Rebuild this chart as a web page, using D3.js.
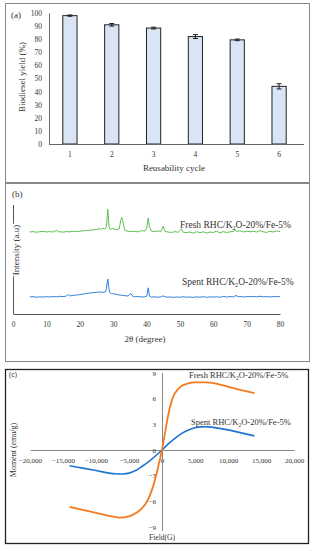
<!DOCTYPE html>
<html>
<head>
<meta charset="utf-8">
<script src="https://cdn.jsdelivr.net/npm/d3@7"></script>
<style>
  body { margin: 0; background: #fff; }
  text { font-family: "Liberation Serif", "DejaVu Serif", serif; fill: #333; }
</style>
</head>
<body>
<div id="chart"></div>
<script>
// ---- data ----
var cycles = ["1", "2", "3", "4", "5", "6"];
var yieldVals = [98, 91, 88.5, 82, 79.5, 44];
var yieldErr = [0.5, 1, 0.7, 1.5, 0.6, 2];
var yieldTicks = [0, 10, 20, 30, 40, 50, 60, 70, 80, 90, 100];

var xrdTicks = [0, 10, 20, 30, 40, 50, 60, 70, 80];
// [2theta, intensity a.u.]
var freshXRD = [[5,75.2],[6,75.6],[7,75.0],[8,75.5],[9,75.8],[10,75.3],[11,75.6],[12,75.2],[13,76.8],[13.5,75.4],[14,75.5],[15,75.1],[16,75.6],[17,75.4],[18,75.9],[19,75.6],[20,76.0],[21,76.3],[22,76.6],[23,76.9],[24,77.2],[25,77.6],[26,78.3],[26.5,77.8],[27,78.6],[27.5,78.0],[28,80],[28.4,96],[28.8,80],[29.2,77.5],[29.8,78.5],[30.5,77.8],[31,77.2],[31.8,78],[32.3,86],[32.6,88.5],[33,84],[33.5,76.5],[34.5,76],[35.5,75.6],[36.5,75.8],[37.5,75.4],[38.5,76.5],[39.5,76],[40.1,79],[40.5,88],[40.9,80],[41.5,76],[42.5,75.6],[43.5,76.2],[44.3,75.5],[45,80.5],[45.5,75.8],[46.5,75.2],[47.5,74.8],[48.5,75.6],[49.5,75],[50.5,78],[51,75],[52,74.6],[53,75.3],[54,74.2],[55,75.5],[56,74.6],[57,75.4],[58,74.3],[59,75.2],[60,74.8],[61,76],[62,74.5],[63,75.6],[64,74.8],[65,75.4],[66,75.8],[66.5,77.2],[67,75.8],[68,76.4],[69,75.2],[70,76],[71,75.4],[72,75.9],[73,75.2],[74,76.5],[75,75.4],[76,74.8],[77,76],[78,75.2],[79,76.2],[80,75.6]];
var spentXRD = [[5,15.6],[6,15.9],[7,15.4],[8,15.8],[9,15.5],[10,15.9],[11,15.6],[12,16],[13,15.7],[14,16.2],[15,16],[16,16.4],[16.5,18],[17,16.6],[18,17],[19,17.4],[20,17.8],[21,18.3],[22,18.8],[23,19.2],[24,19.6],[25,19.9],[26,20.2],[27,19.8],[27.8,20.5],[28.4,32],[28.9,20],[29.5,18.6],[30.5,18.4],[31.5,17.6],[32.5,17.2],[33.5,16.8],[34.5,16.5],[35.3,19],[35.8,16.4],[36.5,15.8],[37.5,16],[38.5,15.6],[39.5,15.8],[40.1,16.5],[40.5,24],[40.9,16.4],[41.5,15.5],[42.5,15.8],[43.5,15.3],[44.5,15.9],[45,16.6],[46,15.4],[47,15.7],[48,15.2],[49,15.6],[50,15.3],[51,15.9],[52,15.4],[53,15.6],[54,15.2],[55,15.8],[56,15.4],[57,15.9],[58,15.3],[59,15.7],[60,15.5],[61,15.8],[62,15.3],[63,16.2],[64,15.6],[65,16],[66,15.7],[66.8,17],[67.5,15.8],[68,16.1],[69,15.6],[70,16],[71,15.8],[72,16.2],[73,15.7],[74,16.3],[75,15.8],[76,16],[77,15.6],[78,16.1],[79,15.8],[80,16]];

var fieldTicks = [-20000, -15000, -10000, -5000, 0, 5000, 10000, 15000, 20000];
var momentTicks = [-9, -6, -3, 0, 3, 6, 9];
// [field G, moment emu/g]
var freshVSM = [[-14000,-6.65],[-12000,-7.0],[-10000,-7.35],[-8000,-7.7],[-6500,-7.9],[-5000,-7.75],[-4000,-7.4],[-3300,-7.0],[-2500,-6.3],[-2000,-5.6],[-1500,-4.6],[-1000,-3.3],[-500,-1.7],[0,0],[500,2.2],[1000,4.3],[1500,5.8],[2000,6.7],[3000,7.5],[4000,7.8],[5000,7.9],[6500,7.9],[8000,7.8],[10000,7.4],[12000,7.0],[14000,6.65]];
var spentVSM = [[-14000,-1.85],[-12000,-2.12],[-10000,-2.4],[-8000,-2.7],[-7000,-2.78],[-6000,-2.8],[-5000,-2.7],[-4000,-2.4],[-3000,-1.9],[-2000,-1.35],[-1000,-0.7],[0,0],[1000,0.75],[2000,1.4],[3000,1.95],[4000,2.35],[5000,2.6],[6000,2.7],[7000,2.7],[8000,2.62],[10000,2.35],[12000,2.0],[14000,1.65]];

var W = 315, H = 550;
var svg = d3.select("#chart").append("svg")
  .attr("width", W).attr("height", H);

// panel frames
svg.append("rect").attr("x", 5.5).attr("y", 3.5).attr("width", 304).attr("height", 179)
  .attr("fill", "none").attr("stroke", "#888");
svg.append("rect").attr("x", 5.5).attr("y", 183.5).attr("width", 304).attr("height", 178)
  .attr("fill", "none").attr("stroke", "#888");
svg.append("rect").attr("x", 5.5).attr("y", 369.5).attr("width", 303).attr("height", 174)
  .attr("fill", "none").attr("stroke", "#222").attr("stroke-width", 1.3);

function styleAxis(size) {
  return function(g) {
    g.attr("font-family", null);
    g.select(".domain").attr("stroke", "#666");
    g.selectAll("text").style("font-size", size + "px").attr("fill", "#333");
  };
}

// ===== panel (a) =====
var xa = d3.scaleBand().domain(cycles).range([49, 300]).paddingInner(0.66).paddingOuter(0.33);
var ya = d3.scaleLinear().domain([0, 100]).range([144, 13]);

var ga = svg.append("g");
ga.append("g").attr("transform", "translate(49,0)")
  .call(d3.axisLeft(ya).tickValues(yieldTicks).tickSize(0).tickPadding(7))
  .call(styleAxis(7.5));

ga.selectAll("rect.bar").data(yieldVals).enter().append("rect")
  .attr("class", "bar")
  .attr("x", function(d, i) { return xa(cycles[i]); })
  .attr("y", function(d) { return ya(d); })
  .attr("width", xa.bandwidth())
  .attr("height", function(d) { return ya(0) - ya(d); })
  .attr("fill", "#d9e5f4").attr("stroke", "#222").attr("stroke-width", 1);

// error bars
ga.selectAll("g.err").data(yieldVals).enter().append("g")
  .attr("class", "err")
  .each(function(d, i) {
    var cx = xa(cycles[i]) + xa.bandwidth() / 2;
    var g = d3.select(this);
    g.append("line").attr("x1", cx).attr("x2", cx)
      .attr("y1", ya(d + yieldErr[i])).attr("y2", ya(d - yieldErr[i])).attr("stroke", "#222");
    [d + yieldErr[i], d - yieldErr[i]].forEach(function(v) {
      g.append("line").attr("x1", cx - 2.5).attr("x2", cx + 2.5)
        .attr("y1", ya(v)).attr("y2", ya(v)).attr("stroke", "#222");
    });
  });

ga.append("g").attr("transform", "translate(0,144)")
  .call(d3.axisBottom(xa).tickSize(0).tickPadding(8))
  .call(styleAxis(7.5))
  .call(function(g) { g.select(".domain").attr("d", "M49,0.5H304"); });

ga.append("text").attr("x", 174).attr("y", 171).attr("text-anchor", "middle")
  .style("font-size", "9px").text("Reusability cycle");
ga.append("text").attr("transform", "translate(25,77) rotate(-90)").attr("text-anchor", "middle")
  .style("font-size", "9px").text("Biodiesel yield (%)");
ga.append("text").attr("x", 11).attr("y", 18).style("font-size", "9px").text("(a)");

// ===== panel (b) =====
var xb = d3.scaleLinear().domain([0, 80]).range([13, 280]);
var yb = d3.scaleLinear().domain([0, 100]).range([314, 205]);
var gb = svg.append("g");

gb.append("line").attr("x1", 13.5).attr("x2", 13.5).attr("y1", 205).attr("y2", 314).attr("stroke", "#555");
gb.append("g").attr("transform", "translate(0,314)")
  .call(d3.axisBottom(xb).tickValues(xrdTicks).tickSize(0).tickPadding(8))
  .call(styleAxis(7.5))
  .call(function(g) { g.select(".domain").attr("stroke", "#555"); });

var lineB = d3.line().x(function(d) { return xb(d[0]); }).y(function(d) { return yb(d[1]); });
gb.append("path").datum(freshXRD).attr("d", lineB).attr("fill", "none")
  .attr("stroke", "#4cb83e").attr("stroke-width", 0.9);
gb.append("path").datum(spentXRD).attr("d", lineB).attr("fill", "none")
  .attr("stroke", "#1d74d0").attr("stroke-width", 0.9);

function sampleLabel(g, x, y, word, size) {
  var t = g.append("text").attr("x", x).attr("y", y).style("font-size", size + "px");
  t.append("tspan").text(word + " RHC/K");
  t.append("tspan").attr("dy", 2).style("font-size", (size * 0.65) + "px").text("2");
  t.append("tspan").attr("dy", -2).text("O-20%/Fe-5%");
  return t;
}
sampleLabel(gb, 180, 228, "Fresh", 9.5);
sampleLabel(gb, 182, 285, "Spent", 9.5);

// white strip behind the y label, it cuts the axis line like in the original
var labBg = gb.append("rect").attr("fill", "#fff");
var ylabB = gb.append("text").attr("transform", "translate(19,250) rotate(-90)").attr("text-anchor", "middle")
  .style("font-size", "9px").text("Intensity (a.u)");
var bw = ylabB.node().getComputedTextLength();
labBg.attr("x", 10).attr("y", 250 - bw / 2 - 1).attr("width", 8).attr("height", bw + 2);

gb.append("text").attr("x", 12).attr("y", 197).style("font-size", "9px").text("(b)");
gb.append("text").attr("x", 145).attr("y", 342).attr("text-anchor", "middle")
  .style("font-size", "9px").text("2θ (degree)");

// ===== panel (c) =====
var xc = d3.scaleLinear().domain([-20000, 20000]).range([30, 294]);
var yc = d3.scaleLinear().domain([-9, 9]).range([527, 373]);
var gc = svg.append("g");

gc.append("g").attr("transform", "translate(0," + yc(0) + ")")
  .call(d3.axisBottom(xc).tickValues(fieldTicks).tickSize(0).tickPadding(8)
    .tickFormat(d3.format(",")))
  .call(styleAxis(7))
  .call(function(g) { g.select(".domain").attr("stroke", "#888"); });
gc.append("g").attr("transform", "translate(" + xc(0) + ",0)")
  .call(d3.axisLeft(yc).tickValues(momentTicks).tickSize(0).tickPadding(6)
    .tickFormat(d3.format("")))
  .call(styleAxis(7))
  .call(function(g) {
    g.select(".domain").attr("stroke", "#888").attr("d", "M0.5,373V531");
  });

var lineC = d3.line().curve(d3.curveCatmullRom.alpha(0.5))
  .x(function(d) { return xc(d[0]); }).y(function(d) { return yc(d[1]); });
gc.append("path").datum(spentVSM).attr("d", lineC).attr("fill", "none")
  .attr("stroke", "#1f74cf").attr("stroke-width", 1.6);
gc.append("path").datum(freshVSM).attr("d", lineC).attr("fill", "none")
  .attr("stroke", "#f47a20").attr("stroke-width", 1.8);

sampleLabel(gc, 189, 378, "Fresh", 8.5);
sampleLabel(gc, 191, 425, "Spent", 8.5);

gc.append("text").attr("transform", "translate(16,450) rotate(-90)").attr("text-anchor", "middle")
  .style("font-size", "8px").text("Moment (emu/g)");
gc.append("text").attr("x", 162).attr("y", 540).attr("text-anchor", "middle")
  .style("font-size", "7.5px").text("Field(G)");
gc.append("text").attr("x", 9).attr("y", 377).style("font-size", "7.5px")
  .style("font-family", "'Open Sans', sans-serif").text("(c)");
</script>
</body>
</html>
